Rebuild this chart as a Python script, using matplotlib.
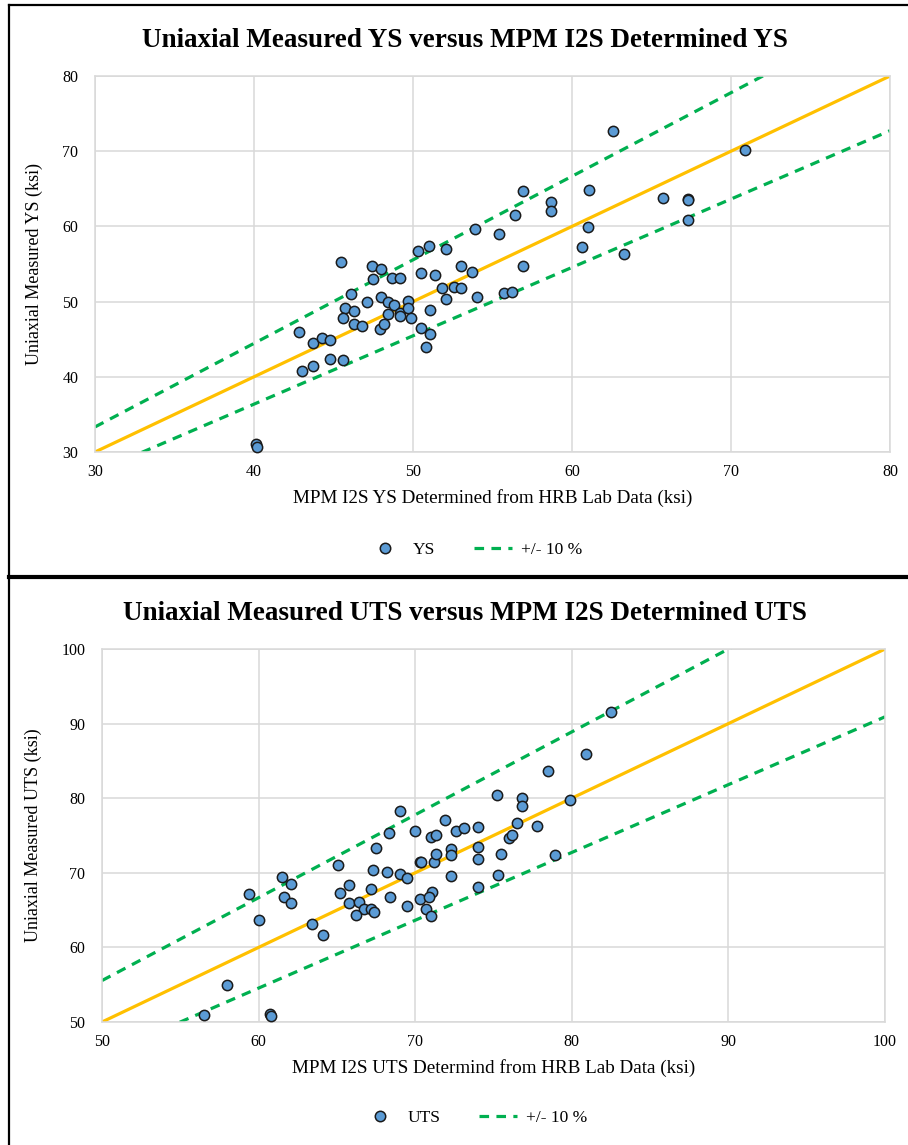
import numpy as np
import matplotlib.pyplot as plt
from matplotlib.lines import Line2D

plt.rcParams['font.family'] = ['Liberation Serif', 'DejaVu Serif']

# YS data: MPM I2S determined (x) vs uniaxial measured (y), ksi
ys_mpm = [45.5, 47.4, 48.0, 47.5, 48.7, 49.2, 50.3, 51.0, 52.1, 53.9, 55.4, 56.9,
          50.5, 51.4, 53.0, 53.7, 51.8, 52.6, 53.0, 52.1, 54.0, 55.7, 56.2, 46.1,
          45.7, 46.3, 45.6, 46.3, 46.8, 47.1, 48.0, 48.4, 48.8, 48.4, 49.2, 49.2,
          49.7, 49.7, 49.9, 47.9, 48.2, 51.1, 50.5, 51.1, 50.8, 42.8, 43.7, 44.3,
          44.8, 44.8, 45.6, 43.7, 43.0, 62.6, 56.9, 58.7, 58.7, 56.4, 61.1, 65.7,
          67.3, 67.3, 67.3, 61.0, 60.6, 63.3, 70.9, 40.1, 40.2]
ys_uni = [55.3, 54.8, 54.4, 53.0, 53.1, 53.2, 56.7, 57.4, 57.0, 59.6, 59.0, 54.8,
          53.8, 53.6, 54.8, 53.9, 51.8, 52.0, 51.8, 50.3, 50.6, 51.2, 51.3, 51.0,
          49.2, 48.7, 47.8, 47.0, 46.7, 49.9, 50.6, 49.9, 49.5, 48.4, 48.5, 48.1,
          50.1, 49.1, 47.8, 46.4, 47.0, 48.9, 46.5, 45.7, 43.9, 45.9, 44.5, 45.2,
          44.9, 42.4, 42.2, 41.5, 40.8, 72.7, 64.7, 63.2, 62.1, 61.5, 64.8, 63.8,
          63.7, 63.5, 60.9, 59.9, 57.2, 56.3, 70.1, 31.1, 30.7]

# UTS data
uts_mpm = [59.4, 60.0, 61.5, 62.1, 61.6, 62.1, 63.4, 64.1, 65.1, 65.8, 65.2, 65.8,
           66.4, 66.7, 66.2, 67.2, 67.4, 67.2, 67.3, 67.5, 68.3, 69.0, 68.2, 68.4,
           69.0, 69.5, 69.5, 70.0, 70.3, 70.3, 70.7, 71.0, 71.1, 70.9, 71.2, 71.3,
           71.0, 71.3, 71.9, 72.6, 73.1, 72.3, 72.3, 72.3, 74.0, 74.0, 74.0, 74.0,
           75.2, 75.3, 80.9, 78.5, 76.8, 76.8, 79.9, 76.5, 77.8, 76.0, 76.2, 75.5,
           78.9, 82.5, 56.5, 60.7, 60.8, 58.0, 70.4]
uts_uni = [67.1, 63.7, 69.4, 68.5, 66.7, 66.0, 63.2, 61.7, 71.0, 68.4, 67.3, 66.0,
           66.1, 65.2, 64.3, 65.1, 64.8, 67.8, 70.4, 73.3, 75.4, 78.3, 70.1, 66.7,
           69.8, 69.3, 65.6, 75.6, 71.5, 66.5, 65.2, 64.2, 67.4, 66.8, 71.4, 72.5,
           74.8, 75.1, 77.1, 75.6, 76.0, 73.2, 72.4, 69.6, 76.2, 73.4, 71.9, 68.1,
           80.4, 69.7, 85.9, 83.6, 80.0, 78.9, 79.8, 76.7, 76.3, 74.7, 75.1, 72.5,
           72.4, 91.6, 51.0, 51.1, 50.8, 55.0, 71.5]

ys_range = [30, 80]
uts_range = [50, 100]

W, H = 908, 1145
fig = plt.figure(figsize=(W / 100, H / 100), dpi=100)

blue = '#5B9BD5'
gold = '#FFC000'
green = '#00B050'
gridc = '#D9D9D9'


def panel(rect, xs, ys, lims, title, xlabel, ylabel, name, leg_y):
    ax = fig.add_axes(rect)
    lo, hi = lims
    line = np.array([lo, hi])
    ax.plot(line, line, color=gold, lw=2.3, zorder=2)
    # +/- 10 % bands
    ax.plot(line, line / 0.9, color=green, lw=2.3, dashes=(3, 2.3), zorder=2)
    ax.plot(line, line / 1.1, color=green, lw=2.3, dashes=(3, 2.3), zorder=2)
    ax.scatter(xs, ys, s=55, color=blue, edgecolor='#1a1a1a', linewidth=1.1,
               zorder=3, clip_on=False)
    ax.set_xlim(lo, hi)
    ax.set_ylim(lo, hi)
    ticks = np.arange(lo, hi + 1, 10)
    ax.set_xticks(ticks)
    ax.set_yticks(ticks)
    ax.tick_params(axis='x', length=0, labelsize=11.5, pad=9)
    ax.tick_params(axis='y', length=0, labelsize=11.5, pad=12)
    ax.grid(True, color=gridc, lw=1.1)
    ax.set_axisbelow(True)
    for s in ax.spines.values():
        s.set_color(gridc)
        s.set_linewidth(1.1)
    ax.set_xlabel(xlabel, fontsize=13.8, labelpad=6)
    ax.set_ylabel(ylabel, fontsize=13, labelpad=14)
    fig.text(0.512, rect[1] + rect[3] + 0.031, title, ha='center', va='center',
             fontsize=19.5, fontweight='bold')
    handles = [Line2D([], [], marker='o', ls='none', markersize=7.5,
                      markerfacecolor=blue, markeredgecolor='#1a1a1a',
                      markeredgewidth=1.1),
               Line2D([], [], color=green, lw=2.3, dashes=(3, 2.3))]
    fig.legend(handles, [name, '+/- 10 %'], loc='center',
               bbox_to_anchor=(474 / W, leg_y), ncol=2, frameon=False,
               fontsize=12.5, handlelength=2.2, handletextpad=0.5,
               columnspacing=2.2)
    return ax


panel([95 / W, 1 - 452 / H, 795 / W, 376 / H], ys_mpm, ys_uni, ys_range,
      'Uniaxial Measured YS versus MPM I2S Determined YS',
      'MPM I2S YS Determined from HRB Lab Data (ksi)',
      'Uniaxial Measured YS (ksi)', 'YS', 1 - 550 / H)

panel([102 / W, 1 - 1022 / H, 783 / W, 373 / H], uts_mpm, uts_uni, uts_range,
      'Uniaxial Measured UTS versus MPM I2S Determined UTS',
      'MPM I2S UTS Determind from HRB Lab Data (ksi)',
      'Uniaxial Measured UTS (ksi)', 'UTS', 1 - 1118 / H)

# panel frames
fig.add_artist(Line2D([9 / W, 9 / W], [0, 1 - 5 / H], color='black', lw=1.6))
fig.add_artist(Line2D([9 / W, 1], [1 - 5 / H, 1 - 5 / H], color='black', lw=1.6))
fig.add_artist(Line2D([9 / W, 1], [1 - 577 / H, 1 - 577 / H], color='black', lw=3))

fig.savefig('out.png', dpi=100)
